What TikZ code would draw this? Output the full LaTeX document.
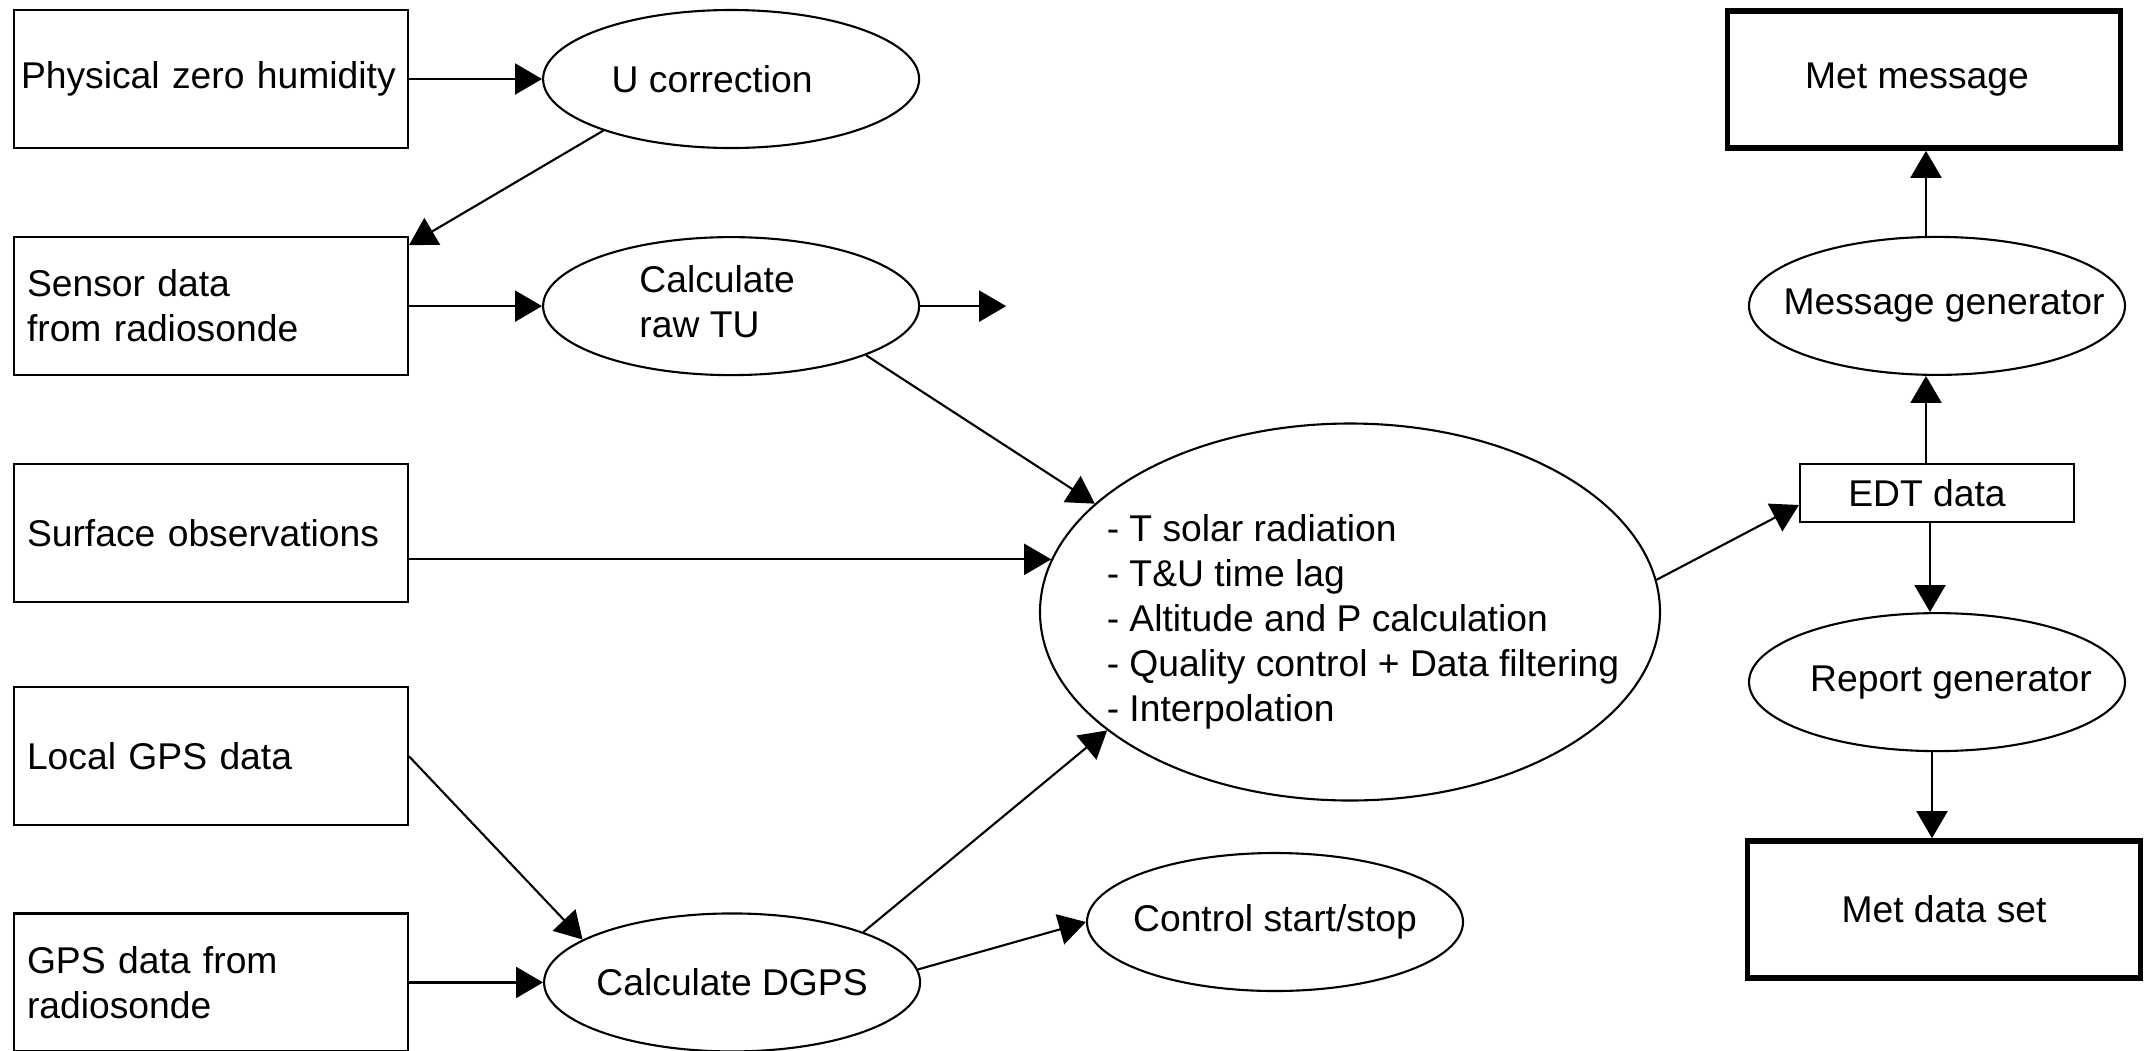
\documentclass[tikz,border=0pt]{standalone}
\usepackage{fontspec}
\setmainfont{Liberation Sans}
\usetikzlibrary{positioning,shapes.geometric,arrows.meta}

\tikzset{
  box/.style={draw, line width=0.6pt, rectangle, minimum width=3.94cm, minimum height=1.38cm,
    text width=3.68cm, align=left, inner xsep=0.13cm},
  proc/.style={draw, line width=0.6pt, ellipse, minimum width=3.76cm, minimum height=1.38cm,
    inner xsep=-0.6cm, inner ysep=0pt, align=center},
  outbox/.style={draw, line width=1.6pt, rectangle, minimum width=3.93cm, minimum height=1.37cm},
  arr/.style={line width=0.6pt, -{Triangle[length=0.27cm, width=0.31cm]}},
}

\begin{document}
\begin{tikzpicture}[font=\fontsize{10.6}{12.8}\selectfont]
	\useasboundingbox (0,0) rectangle (21.44,-10.5);

	% inputs
	\node[box, text width=3.8cm, inner xsep=0.07cm] (phys) at (2.11,-0.79) {Physical zero humidity};
	\node[box, below=0.87cm of phys] (sensor) {Sensor data\\from radiosonde};
	\node[box, below=0.87cm of sensor] (surface) {Surface observations};
	\node[box, below=0.83cm of surface] (localgps) {Local GPS data};
	\node[box, below=0.86cm of localgps] (gpsradio) {GPS data from\\radiosonde};

	% processing
	\node[proc, right=1.33cm of phys] (ucorr) {U correction\hspace*{0.38cm}};
	\node[proc, right=1.33cm of sensor] (rawtu)
		{\begin{tabular}{@{}l@{\hspace{0.28cm}}}Calculate\\raw TU\end{tabular}};
	\node[proc, right=1.34cm of gpsradio] (dgps) {Calculate DGPS};
	\node[proc] (control) at (12.75,-9.22) {Control start/stop};
	\node[proc, minimum width=6.2cm, minimum height=3.77cm, inner xsep=-1.2cm, text depth=0.82cm] (big) at (13.5,-6.12)
		{\begin{tabular}{@{\hspace{0.26cm}}l@{}}- T solar radiation\\- T\&U time lag\\- Altitude and P calculation\\
		 - Quality control + Data filtering\\- Interpolation\end{tabular}};
	\coordinate[right=0.86cm of rawtu.east] (rawout);

	% outputs
	\node[draw, line width=0.6pt, minimum width=2.74cm, minimum height=0.58cm] (edt) at (19.37,-4.93) {EDT data\hspace*{0.2cm}};
	\node[proc, above=0.87cm of edt] (msggen) {\hspace*{0.14cm}Message generator};
	\node[outbox, above=0.85cm of msggen, xshift=-1.3mm] (metmsg) {Met message\hspace*{0.14cm}};
	\node[proc, below=0.89cm of edt] (report) {\hspace*{0.28cm}Report generator};
	\node[outbox, below=0.86cm of report, xshift=0.7mm] (metdata) {Met data set};

	\draw[arr] (phys) -- (ucorr);
	\draw[arr] (ucorr.202) -- ([yshift=-0.9mm]sensor.north east);
	\draw[arr] (sensor) -- (rawtu);
	\draw[arr] (rawtu.east) -- (rawout);
	\draw[arr] (rawtu.340) -- (big.157);
	\draw[arr] (surface.east |- big.170) -- (big.170);
	\draw[arr] (localgps.east) -- (dgps.164);
	\draw[arr] (gpsradio) -- (dgps);
	\draw[arr] (dgps.21) -- (big.206);
	\draw[arr] (dgps.4) -- (control.west);
	\draw[arr] (big.6) -- ([yshift=-1.2mm]edt.west);
	\draw[arr] ([xshift=-1.1mm]edt.north) -- ([xshift=-1.1mm]edt.north |- msggen.south);
	\draw[arr] ([xshift=-1.1mm]msggen.north) -- ([xshift=-1.1mm]msggen.north |- metmsg.south);
	\draw[arr] ([xshift=-0.7mm]edt.south) -- ([xshift=-0.7mm]edt.south |- report.north);
	\draw[arr] ([xshift=-0.5mm]report.south) -- ([xshift=-0.5mm]report.south |- metdata.north);
\end{tikzpicture}
\end{document}
